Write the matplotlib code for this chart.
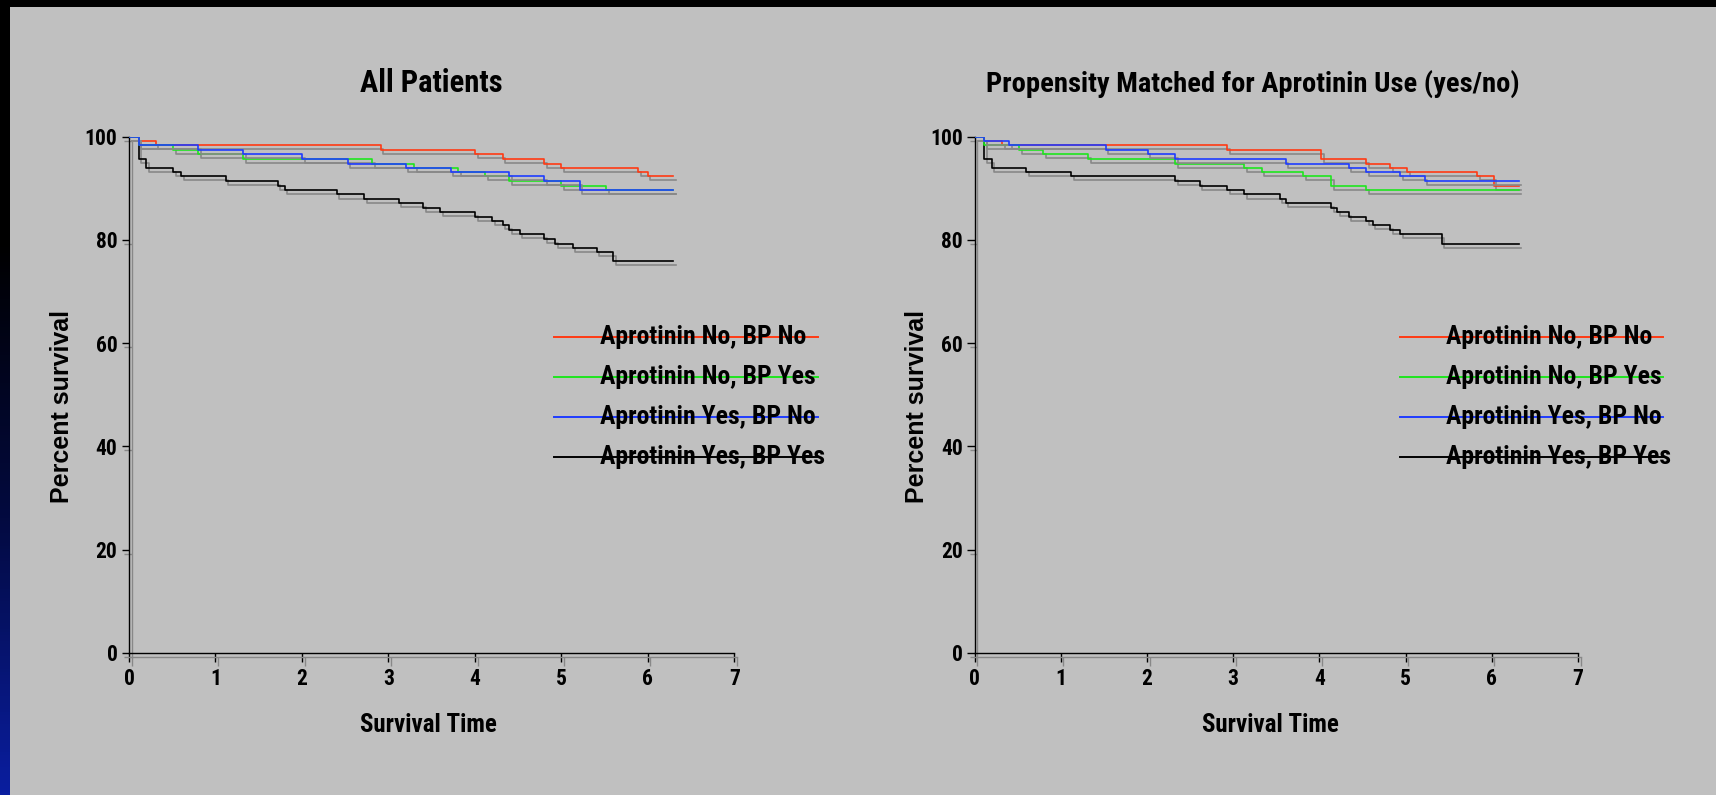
import numpy as np
import matplotlib
matplotlib.use("Agg")
import matplotlib.pyplot as plt
from matplotlib import patheffects as pe
from matplotlib.patches import Rectangle
from matplotlib.colors import LinearSegmentedColormap

# ---------------- data ----------------
series_names = ["Aprotinin No, BP No", "Aprotinin No, BP Yes",
                "Aprotinin Yes, BP No", "Aprotinin Yes, BP Yes"]
series_colors = ["#ff3a14", "#1ee61e", "#1f3cff", "#000000"]

left_red_t = [0, 0.11, 0.31, 2.91, 4.00, 4.32, 4.80, 5.00, 5.89, 6.00, 6.29]
left_red_s = [100, 99.2, 98.3, 97.4, 96.6, 95.7, 94.8, 94.0, 93.1, 92.3, 92.3]
left_green_t = [0, 0.11, 0.51, 0.80, 1.32, 2.81, 3.30, 3.81, 4.12, 4.40, 5.00, 5.52, 6.29]
left_green_s = [100, 98.3, 97.4, 96.6, 95.7, 94.8, 94.0, 93.1, 92.3, 91.4, 90.5, 89.7, 89.7]
left_blue_t = [0, 0.11, 0.80, 1.32, 2.00, 2.53, 3.20, 3.72, 4.40, 4.80, 5.21, 6.29]
left_blue_s = [100, 98.3, 97.4, 96.6, 95.7, 94.8, 94.0, 93.1, 92.3, 91.4, 89.7, 89.7]
left_black_t = [0, 0.11, 0.20, 0.51, 0.60, 1.12, 1.72, 1.80, 2.40, 2.72, 3.12, 3.40,
                3.60, 4.00, 4.20, 4.32, 4.40, 4.52, 4.80, 4.93, 5.13, 5.41, 5.60, 6.29]
left_black_s = [100, 95.7, 94.0, 93.1, 92.3, 91.4, 90.5, 89.7, 88.8, 87.9, 87.1, 86.2,
                85.4, 84.5, 83.7, 82.8, 81.9, 81.1, 80.2, 79.3, 78.5, 77.6, 75.9, 75.9]

right_red_t = [0, 0.11, 0.32, 2.93, 4.02, 4.54, 4.82, 5.02, 5.83, 6.02, 6.31]
right_red_s = [100, 99.2, 98.3, 97.4, 95.7, 94.8, 94.0, 93.1, 92.3, 90.5, 90.5]
right_green_t = [0, 0.11, 0.52, 0.80, 1.32, 2.33, 3.13, 3.33, 3.81, 4.14, 4.54, 6.31]
right_green_s = [100, 98.3, 97.4, 96.6, 95.7, 94.8, 94.0, 93.1, 92.3, 90.5, 89.7, 89.7]
right_blue_t = [0, 0.11, 0.40, 1.52, 2.01, 2.33, 3.61, 4.34, 4.54, 4.94, 5.22, 6.31]
right_blue_s = [100, 99.2, 98.3, 97.4, 96.6, 95.7, 94.8, 94.0, 93.1, 92.3, 91.4, 91.4]
right_black_t = [0, 0.11, 0.20, 0.60, 1.12, 2.33, 2.61, 2.93, 3.13, 3.54, 3.61, 4.14,
                 4.21, 4.34, 4.54, 4.62, 4.82, 4.94, 5.42, 6.31]
right_black_s = [100, 95.7, 94.0, 93.1, 92.3, 91.4, 90.5, 89.7, 88.8, 87.9, 87.1, 86.2,
                 85.4, 84.5, 83.7, 82.8, 81.9, 81.1, 79.3, 79.3]

titles = ["All Patients", "Propensity Matched for Aprotinin Use (yes/no)"]
x_label = "Survival Time"
y_label = "Percent survival"
x_ticks = [0, 1, 2, 3, 4, 5, 6, 7]
y_ticks = [0, 20, 40, 60, 80, 100]

panels = [
    [(left_red_t, left_red_s), (left_green_t, left_green_s),
     (left_blue_t, left_blue_s), (left_black_t, left_black_s)],
    [(right_red_t, right_red_s), (right_green_t, right_green_s),
     (right_blue_t, right_blue_s), (right_black_t, right_black_s)],
]

# ---------------- style ----------------
W, H = 1716, 795
BG = "#c0c0c0"
NARROW = ["Liberation Sans Narrow", "Roboto Condensed", "Liberation Sans", "DejaVu Sans"]
WIDE = ["Liberation Sans", "DejaVu Sans"]
shadow = [pe.SimpleLineShadow(offset=(1.9, -2.9), shadow_color="#888888", alpha=1.0),
          pe.Normal()]

fig = plt.figure(figsize=(W / 100, H / 100), dpi=100, facecolor=BG)

# decorative frame: black top band, dark-to-blue left strip
fig.patches.append(Rectangle((0, 1 - 7 / H), 1, 7 / H, transform=fig.transFigure,
                             facecolor="black", edgecolor="none", zorder=-5))
strip = fig.add_axes([0, 0, 10 / W, 1 - 7 / H], zorder=-4)
grad = np.linspace(0, 1, 256).reshape(-1, 1)
cm = LinearSegmentedColormap.from_list("strip", [(0, "#000000"), (0.3, "#000000"),
                                                  (0.65, "#030a40"), (1.0, "#0a1ea0")])
strip.imshow(grad, aspect="auto", cmap=cm, origin="upper", extent=[0, 1, 0, 1])
strip.set_axis_off()

# panel geometry (pixel positions of x=0, x=7, y=100, y=0)
geoms = [(129, 734.3), (974.5, 1578)]
Y100, Y0 = 136.7, 652.7
leg_line_x = [(554, 818.3, 600), (1400, 1663, 1446)]
leg_y_px = [336.7, 376.7, 416.7, 456.7]
title_x = [431.5, 1253]
title_size = [22, 20.5]
xlabel_x = [428, 1270]
ylabel_x = [62, 917]

for i, (x0, x7) in enumerate(geoms):
    ax = fig.add_axes([x0 / W, 1 - Y0 / H, (x7 - x0) / W, (Y0 - Y100) / H])
    ax.set_facecolor("none")
    ax.set_xlim(0, 7)
    ax.set_ylim(0, 100)
    for sp in ["top", "right"]:
        ax.spines[sp].set_visible(False)
    for sp in ["left", "bottom"]:
        ax.spines[sp].set_linewidth(1.0)
        ax.spines[sp].set_path_effects(shadow)
    ax.set_xticks(x_ticks)
    ax.set_yticks(y_ticks)
    ax.tick_params(axis="x", direction="out", length=6.5, width=1.0, pad=4.5)
    ax.tick_params(axis="y", direction="out", length=5.3, width=1.0, pad=3.0)
    for tk in ax.xaxis.get_major_ticks() + ax.yaxis.get_major_ticks():
        tk.tick1line.set_path_effects(shadow)
    for lab in ax.get_xticklabels() + ax.get_yticklabels():
        lab.set_fontfamily(NARROW)
        lab.set_fontweight("bold")
        lab.set_fontsize(15.5)

    for (t, s), c in zip(panels[i], series_colors):
        ax.plot(t, s, drawstyle="steps-post", color=c, lw=1.2,
                path_effects=shadow, zorder=3 if c != "#000000" else 2.5)

    # legend (line through label, as in the original)
    lx0, lx1, tx = leg_line_x[i]
    ux = (x7 - x0) / 7.0
    uy = (Y0 - Y100) / 100.0
    for name, c, ypx in zip(series_names, series_colors, leg_y_px):
        yd = 100 - (ypx - Y100) / uy
        ax.plot([(lx0 - x0) / ux, (lx1 - x0) / ux], [yd, yd], color=c, lw=1.4,
                clip_on=False, zorder=4)
        ax.text((tx - x0) / ux, yd, name, fontfamily=NARROW, fontweight="bold",
                fontsize=18.5, ha="left", va="center", color="black", zorder=5,
                clip_on=False)

    fig.text(title_x[i] / W, 1 - 92 / H, titles[i], fontfamily=NARROW,
             fontweight="bold", fontsize=title_size[i], ha="center", va="baseline")
    fig.text(xlabel_x[i] / W, 1 - 731.7 / H, x_label, fontfamily=NARROW,
             fontweight="bold", fontsize=18, ha="center", va="baseline")
    fig.text(ylabel_x[i] / W, 1 - 406.6 / H, y_label, fontfamily=WIDE,
             fontweight="bold", fontsize=18, ha="center", va="center", rotation=90)

fig.savefig("out.png", dpi=100, facecolor=BG)
